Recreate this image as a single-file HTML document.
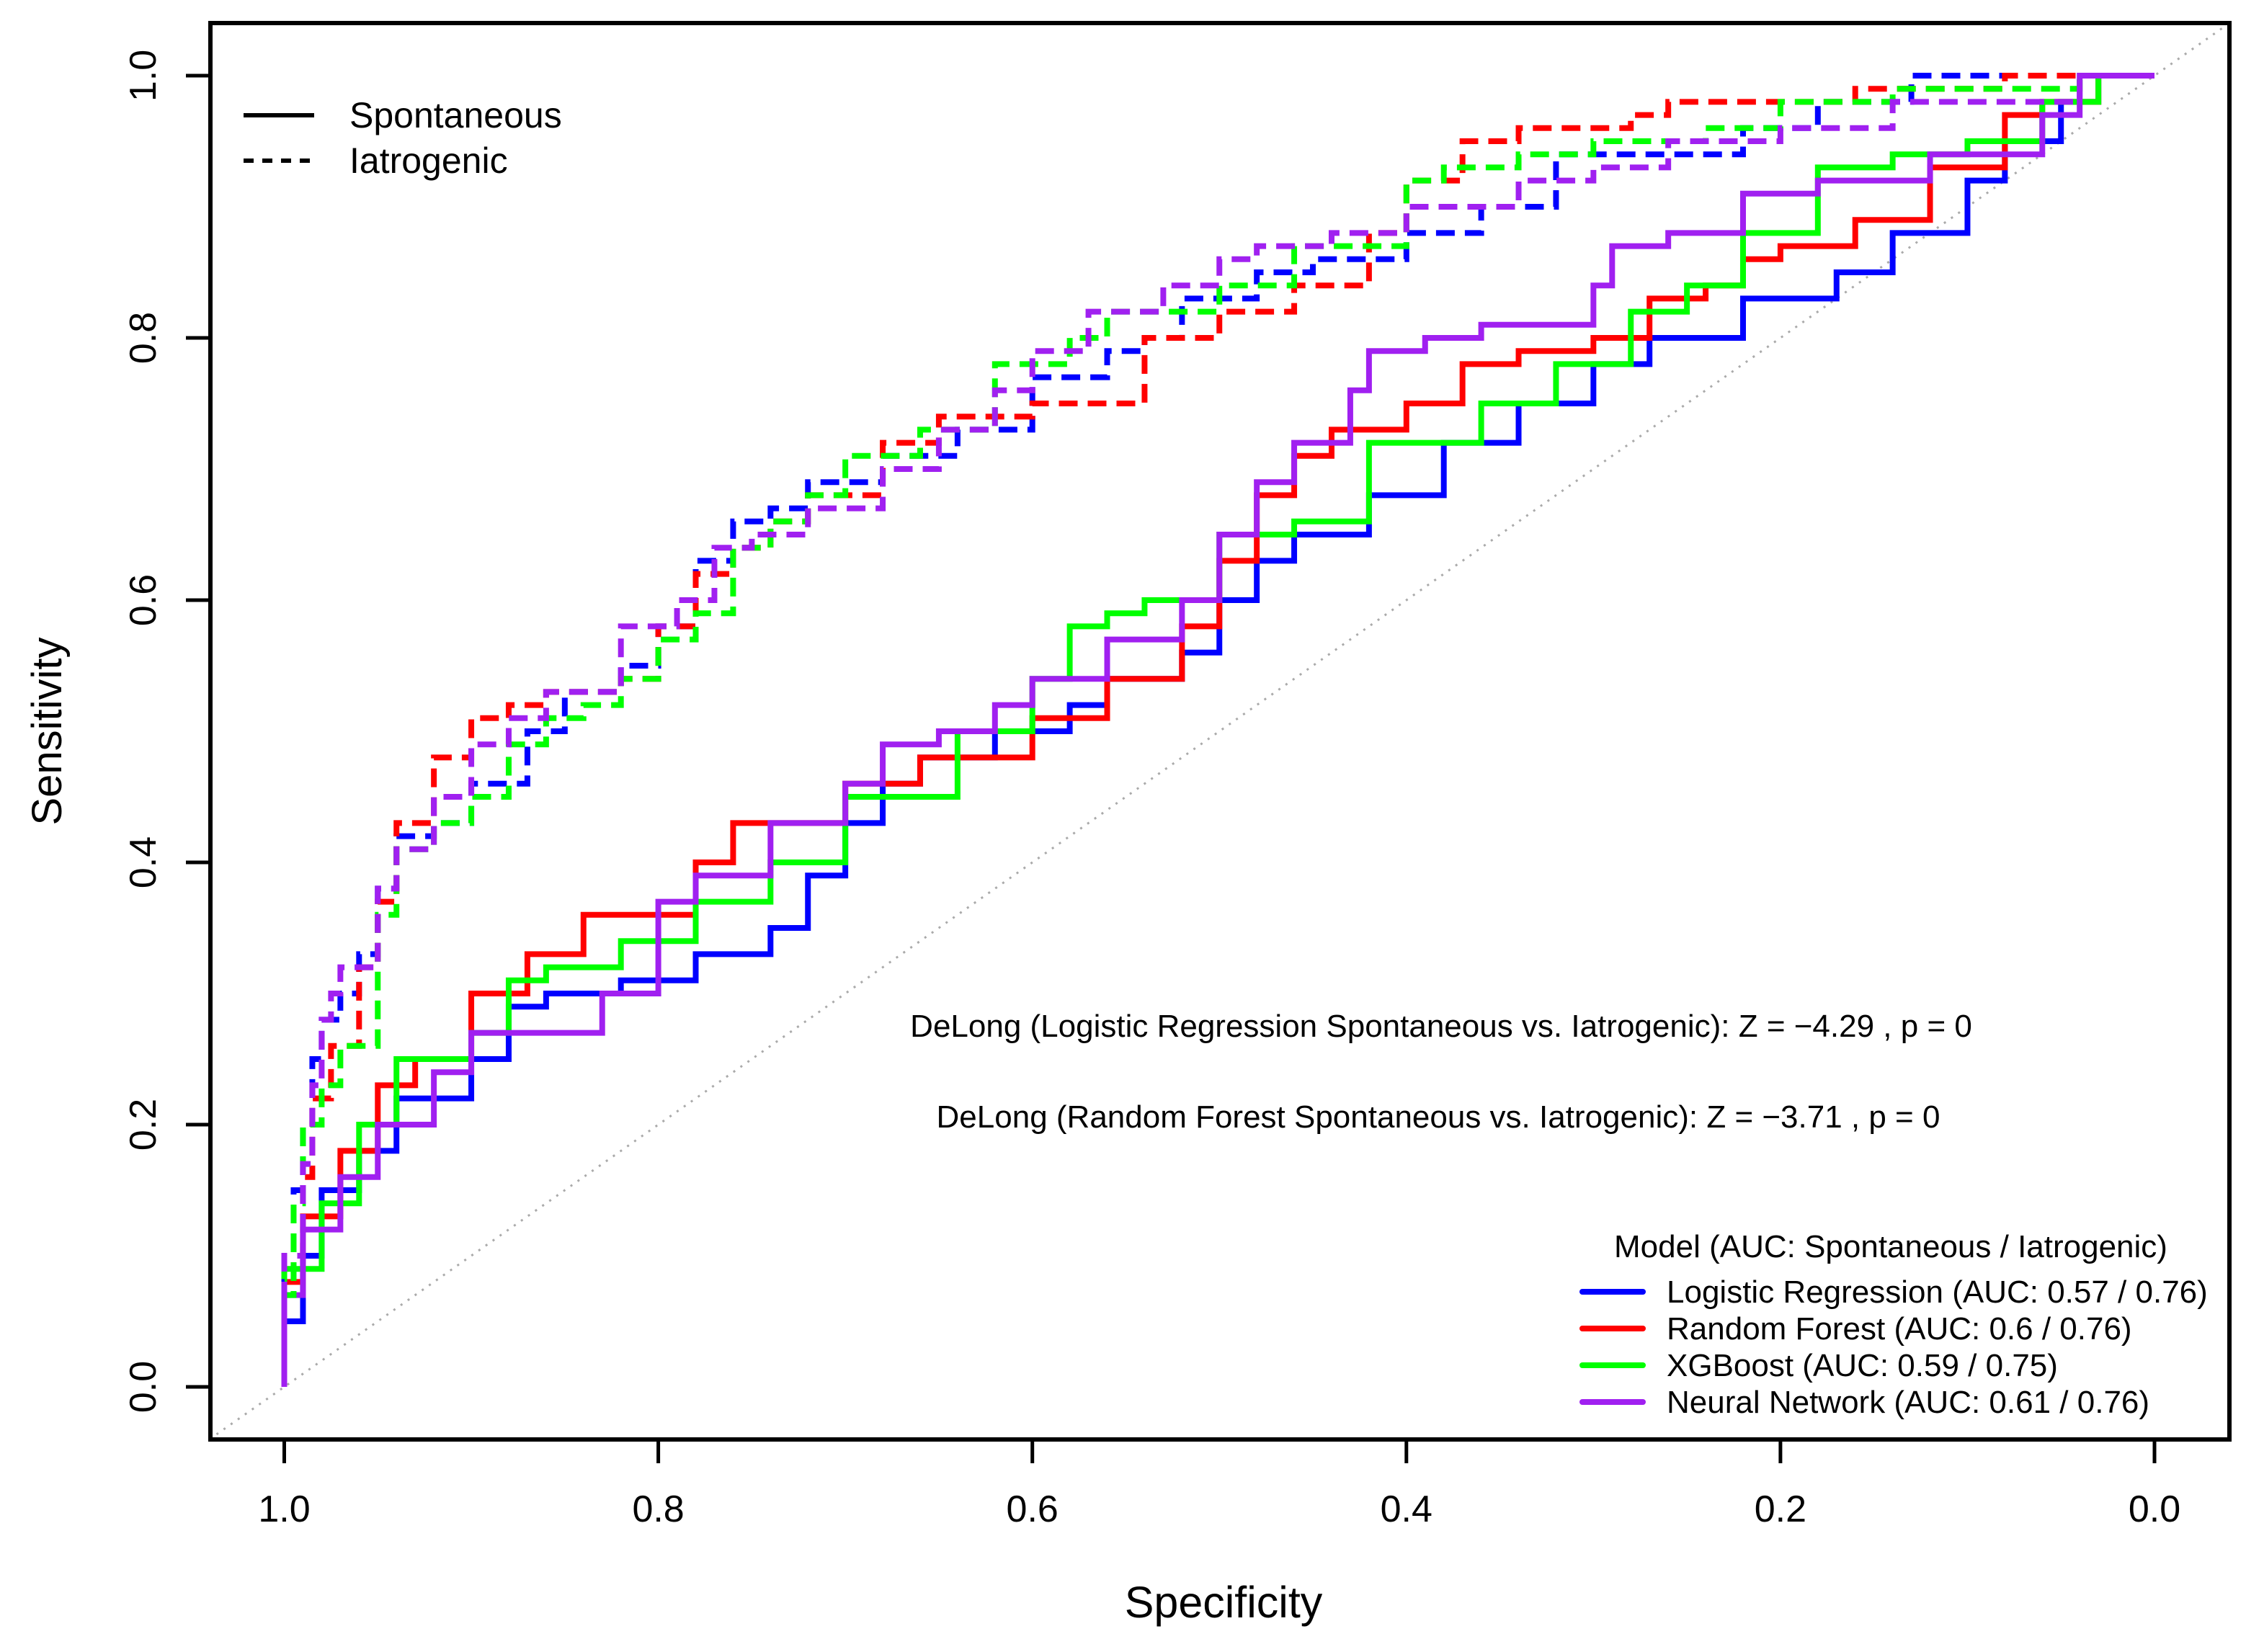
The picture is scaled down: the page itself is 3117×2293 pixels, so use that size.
<!DOCTYPE html>
<html><head><meta charset="utf-8"><style>
body{margin:0;background:#fff}
text{font-family:"Liberation Sans",Arial,sans-serif;fill:#000}
</style></head><body>
<svg id="chart" width="3117" height="2288" viewBox="0 0 3117 2288" xmlns="http://www.w3.org/2000/svg">
<g id="diag"></g>
<g id="curves"></g>
<rect x="292" y="32" width="2802" height="1966" fill="none" stroke="#000" stroke-width="6"/>
<g id="axes"></g>
<text x="1698" y="2245" font-size="61" text-anchor="middle">Specificity</text>
<text transform="translate(85,1015) rotate(-90)" font-size="58" text-anchor="middle">Sensitivity</text>
<g>
<line x1="338" y1="160" x2="436" y2="160" stroke="#000" stroke-width="6"/>
<line x1="338" y1="223" x2="436" y2="223" stroke="#000" stroke-width="6" stroke-dasharray="14,12"/>
<text x="485" y="177" font-size="50">Spontaneous</text>
<text x="485" y="240" font-size="50">Iatrogenic</text>
</g>
<text x="2000" y="1439" font-size="44" text-anchor="middle">DeLong (Logistic Regression Spontaneous vs. Iatrogenic): Z = −4.29 , p = 0</text>
<text x="1996" y="1565" font-size="44" text-anchor="middle">DeLong (Random Forest Spontaneous vs. Iatrogenic): Z = −3.71 , p = 0</text>
<g id="modelLegend">
<text x="2240" y="1745" font-size="44">Model (AUC: Spontaneous / Iatrogenic)</text>
</g>
</svg>
<script>
const models = ["Logistic Regression","Random Forest","XGBoost","Neural Network"];
const aucSpont = ["0.57","0.6","0.59","0.61"];
const aucIatro = ["0.76","0.76","0.75","0.76"];
const colors = ["#0000ff","#ff0000","#00ff00","#a020f0"];
const xTicks = [1.0,0.8,0.6,0.4,0.2,0.0];
const yTicks = [0.0,0.2,0.4,0.6,0.8,1.0];

const lrSpontSpec=[1,0.99,0.98,0.96,0.94,0.90,0.88,0.86,0.82,0.78,0.74,0.72,0.70,0.68,0.66,0.62,0.58,0.56,0.52,0.50,0.48,0.46,0.42,0.38,0.34,0.30,0.27,0.22,0.17,0.14,0.10,0.08,0.05,0.03,0];
const lrSpontSens=[0,0.05,0.10,0.15,0.18,0.22,0.25,0.29,0.30,0.31,0.33,0.35,0.39,0.43,0.46,0.48,0.50,0.52,0.54,0.56,0.60,0.63,0.65,0.68,0.72,0.75,0.78,0.80,0.83,0.85,0.88,0.92,0.95,0.98,1];
const rfSpontSpec=[1,0.99,0.97,0.95,0.93,0.90,0.87,0.84,0.82,0.78,0.76,0.73,0.70,0.66,0.64,0.60,0.56,0.52,0.50,0.48,0.46,0.44,0.40,0.37,0.34,0.30,0.27,0.24,0.22,0.20,0.16,0.12,0.08,0.06,0.03,0];
const rfSpontSens=[0,0.08,0.13,0.18,0.23,0.25,0.30,0.33,0.36,0.36,0.40,0.43,0.43,0.46,0.48,0.48,0.51,0.54,0.58,0.63,0.68,0.71,0.73,0.75,0.78,0.79,0.80,0.83,0.84,0.86,0.87,0.89,0.93,0.97,0.98,1];
const xgbSpontSpec=[1,0.98,0.96,0.94,0.90,0.88,0.86,0.82,0.78,0.74,0.70,0.66,0.64,0.60,0.58,0.56,0.54,0.50,0.46,0.42,0.36,0.32,0.28,0.25,0.22,0.18,0.14,0.10,0.06,0.03,0];
const xgbSpontSens=[0,0.09,0.14,0.20,0.25,0.27,0.31,0.32,0.34,0.37,0.40,0.45,0.45,0.50,0.54,0.58,0.59,0.60,0.65,0.66,0.72,0.75,0.78,0.82,0.84,0.88,0.93,0.94,0.95,0.98,1];
const nnSpontSpec=[1,0.99,0.97,0.95,0.92,0.90,0.87,0.83,0.80,0.78,0.74,0.70,0.68,0.65,0.62,0.60,0.56,0.52,0.50,0.48,0.46,0.43,0.42,0.39,0.36,0.30,0.29,0.26,0.22,0.18,0.12,0.06,0.04,0];
const nnSpontSens=[0,0.07,0.12,0.16,0.20,0.24,0.27,0.27,0.30,0.37,0.39,0.43,0.46,0.49,0.50,0.52,0.54,0.57,0.60,0.65,0.69,0.72,0.76,0.79,0.80,0.81,0.84,0.87,0.88,0.91,0.92,0.94,0.97,1];
const lrIatroSpec=[1,0.995,0.99,0.985,0.98,0.97,0.96,0.95,0.94,0.92,0.90,0.87,0.85,0.82,0.80,0.78,0.76,0.74,0.72,0.68,0.64,0.60,0.56,0.54,0.52,0.48,0.45,0.40,0.36,0.32,0.26,0.22,0.18,0.13,0.11,0];
const lrIatroSens=[0,0.08,0.15,0.20,0.25,0.28,0.30,0.33,0.38,0.42,0.43,0.46,0.50,0.53,0.55,0.58,0.63,0.66,0.67,0.69,0.71,0.73,0.77,0.79,0.80,0.83,0.85,0.86,0.88,0.90,0.94,0.94,0.96,0.98,1,1];
const rfIatroSpec=[1,0.99,0.985,0.975,0.96,0.95,0.94,0.92,0.90,0.88,0.86,0.82,0.80,0.78,0.76,0.74,0.72,0.68,0.65,0.60,0.54,0.50,0.46,0.42,0.40,0.37,0.34,0.28,0.26,0.16,0.08,0];
const rfIatroSens=[0,0.10,0.16,0.22,0.26,0.32,0.37,0.43,0.48,0.51,0.52,0.53,0.54,0.58,0.62,0.64,0.66,0.68,0.72,0.74,0.75,0.80,0.82,0.84,0.88,0.92,0.95,0.96,0.97,0.98,0.99,1];
const xgbIatroSpec=[1,0.995,0.99,0.98,0.97,0.95,0.94,0.92,0.90,0.88,0.86,0.84,0.82,0.80,0.78,0.76,0.74,0.72,0.70,0.66,0.62,0.58,0.56,0.50,0.46,0.40,0.38,0.34,0.30,0.24,0.20,0.14,0.10,0.04,0];
const xgbIatroSens=[0,0.07,0.14,0.20,0.23,0.26,0.36,0.41,0.43,0.45,0.49,0.51,0.52,0.54,0.57,0.59,0.64,0.66,0.68,0.71,0.73,0.78,0.80,0.82,0.84,0.87,0.92,0.93,0.94,0.95,0.96,0.98,0.99,0.99,1];
const nnIatroSpec=[1,0.99,0.985,0.98,0.975,0.97,0.95,0.94,0.92,0.90,0.88,0.86,0.82,0.79,0.77,0.75,0.72,0.68,0.65,0.62,0.60,0.57,0.53,0.50,0.48,0.44,0.40,0.34,0.30,0.26,0.20,0.14,0.04,0];
const nnIatroSens=[0,0.10,0.17,0.23,0.28,0.30,0.32,0.38,0.41,0.45,0.49,0.51,0.53,0.58,0.60,0.64,0.65,0.67,0.70,0.73,0.76,0.79,0.82,0.84,0.86,0.87,0.88,0.90,0.92,0.93,0.95,0.96,0.98,1];

const X0=394.5, X1=2990, Y0=1925, Y1=105;
function sx(s){return X0+(1-s)*(X1-X0);}
function sy(v){return Y0-v*(Y0-Y1);}
const NS="http://www.w3.org/2000/svg";
function mk(tag,attrs,parent){const e=document.createElementNS(NS,tag);for(const k in attrs)e.setAttribute(k,attrs[k]);parent.appendChild(e);return e;}

const diag=document.getElementById('diag');
const dl=mk('line',{x1:sx(1.04),y1:sy(-0.04),x2:sx(-0.04),y2:sy(1.04),stroke:'#aaa','stroke-width':3,'stroke-dasharray':'3,9'},diag);



const axes=document.getElementById('axes');
xTicks.forEach(t=>{
  const l=mk('line',{x1:sx(t),y1:1998,x2:sx(t),y2:2031,stroke:'#000','stroke-width':5},axes);
  
  
  const tx=mk('text',{x:sx(t),y:2112,'font-size':52,'text-anchor':'middle'},axes);
  tx.textContent=t.toFixed(1);
  
  
});
yTicks.forEach(t=>{
  const l=mk('line',{x1:258,y1:sy(t),x2:292,y2:sy(t),stroke:'#000','stroke-width':5},axes);
  
  
  const tx=mk('text',{transform:`translate(216,${sy(t)}) rotate(-90)`,'font-size':52,'text-anchor':'middle'},axes);
  tx.textContent=t.toFixed(1);
  
  
});

const curves=document.getElementById('curves');
function drawCurve(spec,sens,color,dashed,name){
  let d=`M${sx(spec[0])},${sy(sens[0])}`;
  for(let i=1;i<spec.length;i++){d+=` V${sy(sens[i])} H${sx(spec[i])}`;}
  const p=mk('path',{d:d,fill:'none',stroke:color,'stroke-width':8,'stroke-linejoin':'miter'},curves);
  if(dashed)p.setAttribute('stroke-dasharray','26,14');
  
  
}
const spont=[[lrSpontSpec,lrSpontSens],[rfSpontSpec,rfSpontSens],[xgbSpontSpec,xgbSpontSens],[nnSpontSpec,nnSpontSens]];
const iatro=[[lrIatroSpec,lrIatroSens],[rfIatroSpec,rfIatroSens],[xgbIatroSpec,xgbIatroSens],[nnIatroSpec,nnIatroSens]];
const keys=['lr','rf','xgb','nn'];
spont.forEach((c,i)=>drawCurve(c[0],c[1],colors[i],false,keys[i]+'-spontaneous-curve'));
iatro.forEach((c,i)=>drawCurve(c[0],c[1],colors[i],true,keys[i]+'-iatrogenic-curve'));

const lg=document.getElementById('modelLegend');
models.forEach((m,i)=>{
  const y=1793+i*51;
  const l=mk('line',{x1:2196,y1:y,x2:2280,y2:y,stroke:colors[i],'stroke-width':8,'stroke-linecap':'round'},lg);
  
  
  const t=mk('text',{x:2313,y:y+15,'font-size':44},lg);
  t.textContent=`${m} (AUC: ${aucSpont[i]} / ${aucIatro[i]})`;
  
  
});
</script>
</body></html>
